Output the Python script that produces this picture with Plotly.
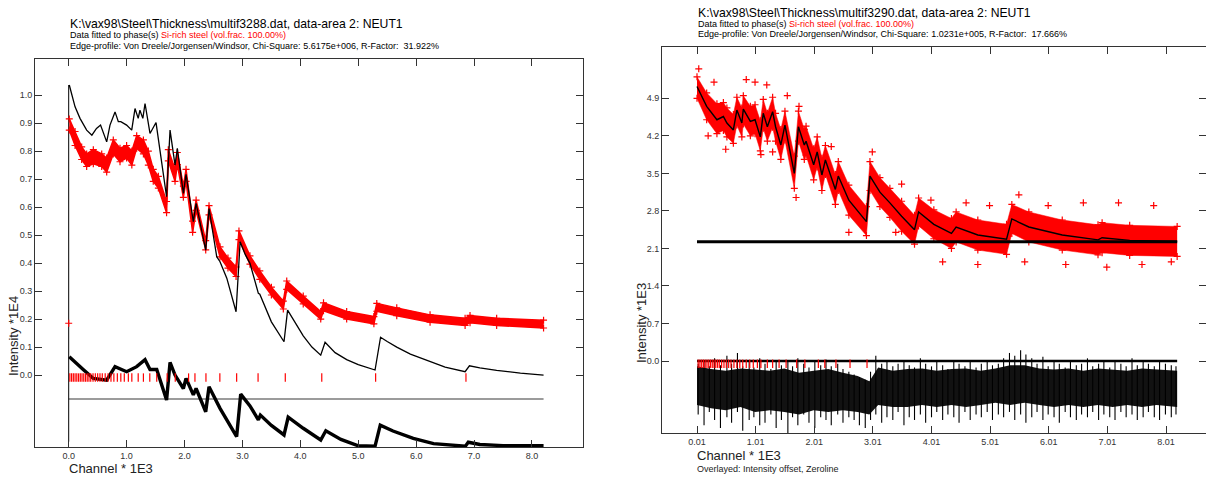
import plotly.graph_objects as go

W, H = 1206, 479
FONT = "Liberation Sans, Arial, Helvetica, sans-serif"
RED = "#ff0000"
AXC = "#333333"

# ================= LEFT PANEL DATA (multif3288.dat) =================
calc_L_x = [0.01, 0.11, 0.195, 0.31, 0.40, 0.48, 0.55, 0.656, 0.713, 0.80, 0.857, 0.90, 1.0,
            1.088, 1.145, 1.2, 1.23, 1.28, 1.318, 1.404, 1.508, 1.577, 1.69, 1.75, 1.836,
            1.876, 1.98, 2.026, 2.152, 2.2, 2.366, 2.423, 2.556, 2.613, 2.73, 2.89, 2.96,
            3.05, 3.13, 3.275, 3.30, 3.5, 3.718, 3.78, 3.9, 4.05, 4.2, 4.352, 4.427, 4.6,
            4.8, 5.0, 5.29, 5.385, 5.5, 5.665, 5.9, 6.24, 6.5, 6.845, 6.92, 7.1, 7.39, 7.8, 8.2]
calc_L_y = [1.036, 0.958, 0.917, 0.875, 0.857, 0.881, 0.893, 0.833, 0.893, 0.94, 0.905, 0.905, 0.893,
            0.875, 0.952, 0.917, 0.946, 0.917, 0.97, 0.863, 0.902, 0.798, 0.637, 0.875, 0.75,
            0.81, 0.649, 0.717, 0.548, 0.613, 0.446, 0.595, 0.423, 0.405, 0.346, 0.226, 0.476,
            0.43, 0.399, 0.292, 0.289, 0.19, 0.119, 0.232, 0.19, 0.14, 0.10, 0.071, 0.117, 0.08,
            0.055, 0.037, 0.018, 0.135, 0.12, 0.10, 0.075, 0.048, 0.028, 0.012, 0.033, 0.026, 0.017, 0.007, 0.0]

obs_L_x = [0.01, 0.11, 0.224, 0.31, 0.425, 0.57, 0.656, 0.77, 0.886, 1.0, 1.09, 1.174, 1.29,
           1.375, 1.46, 1.548, 1.69, 1.72, 1.836, 1.876, 1.98, 2.026, 2.14, 2.2, 2.366, 2.423,
           2.613, 2.75, 2.89, 2.94, 3.13, 3.3, 3.5, 3.706, 3.765, 4.05, 4.352, 4.4, 4.8, 5.27,
           5.32, 5.665, 6.24, 6.845, 6.93, 7.39, 8.2]
obs_L_hi = [0.915, 0.87, 0.815, 0.79, 0.805, 0.79, 0.775, 0.84, 0.81, 0.82, 0.80, 0.855, 0.84,
            0.80, 0.735, 0.71, 0.62, 0.805, 0.735, 0.795, 0.675, 0.735, 0.55, 0.625, 0.48, 0.605,
            0.458, 0.418, 0.386, 0.515, 0.426, 0.372, 0.314, 0.264, 0.336, 0.282, 0.227, 0.258,
            0.227, 0.209, 0.256, 0.24, 0.215, 0.203, 0.213, 0.203, 0.196]
obs_L_lo = [0.875, 0.82, 0.77, 0.745, 0.755, 0.745, 0.725, 0.79, 0.762, 0.775, 0.75, 0.81, 0.79,
            0.75, 0.692, 0.668, 0.58, 0.765, 0.692, 0.752, 0.635, 0.692, 0.51, 0.588, 0.447, 0.572,
            0.422, 0.382, 0.352, 0.484, 0.396, 0.342, 0.286, 0.236, 0.306, 0.254, 0.2, 0.23,
            0.2, 0.183, 0.228, 0.212, 0.189, 0.177, 0.187, 0.177, 0.168]

diff_L_x = [0.01, 0.11, 0.25, 0.425, 0.656, 0.8, 1.0, 1.174, 1.318, 1.404, 1.52, 1.69, 1.75,
            1.836, 1.98, 2.026, 2.152, 2.2, 2.366, 2.423, 2.613, 2.9, 2.97, 3.13, 3.275, 3.31,
            3.5, 3.718, 3.79, 4.05, 4.352, 4.44, 4.7, 4.99, 5.29, 5.38, 5.6, 5.95, 6.3, 6.85,
            6.9, 7.1, 7.5, 8.2]
diff_L_y = [0.065, 0.045, 0.02, -0.012, -0.018, 0.03, 0.012, 0.03, 0.055, 0.02, 0.02, -0.089, 0.045,
            0.0, -0.048, -0.012, -0.071, -0.048, -0.131, -0.042, -0.119, -0.22, -0.068, -0.11, -0.16, -0.143,
            -0.18, -0.214, -0.15, -0.19, -0.232, -0.199, -0.23, -0.252, -0.254, -0.179, -0.2, -0.226, -0.245, -0.254,
            -0.24, -0.248, -0.252, -0.252]

diff_offset_L = -0.0857          # grey reference line of the difference curve
channel_start_L = 0.0
channel_end_L = 8.2
start_line_L = [-0.238, 1.036]   # vertical line at channel 0
first_point_L = (0.0, 0.185)     # isolated red point
refl_level_L = -0.009

# reflection (Bragg-edge) positions, channel * 1E3
refl_pos = [0.02, 0.05, 0.08, 0.11, 0.14, 0.17, 0.20, 0.23, 0.26, 0.29, 0.32, 0.35, 0.38, 0.42,
            0.46, 0.50, 0.54, 0.58, 0.63, 0.68, 0.73, 0.78, 0.84, 0.90, 0.96, 1.03, 1.09, 1.20,
            1.29, 1.40, 1.52, 1.70, 1.84, 2.07, 2.18, 2.37, 2.61, 2.90, 3.27, 3.74, 4.37, 5.30, 6.86]

ytick_L = [0.0, 0.1, 0.2, 0.3, 0.4, 0.5, 0.6, 0.7, 0.8, 0.9, 1.0]
xtick_L = [0, 1, 2, 3, 4, 5, 6, 7, 8]
xtick_L_text = ["0.0", "1.0", "2.0", "3.0", "4.0", "5.0", "6.0", "7.0", "8.0"]

# ================= RIGHT PANEL DATA (multif3290.dat) =================
calc_R_x = [0.01, 0.175, 0.35, 0.46, 0.52, 0.63, 0.69, 0.775, 0.80, 0.92, 1.0, 1.09, 1.14, 1.21,
            1.30, 1.35, 1.44, 1.51, 1.67, 1.74, 1.84, 1.87, 2.0, 2.06, 2.14, 2.2, 2.37, 2.42,
            2.6, 2.9, 2.96, 3.13, 3.3, 3.5, 3.72, 3.79, 4.05, 4.35, 4.43, 4.8, 5.29, 5.38, 5.67,
            6.24, 6.85, 6.92, 7.39, 8.2]
calc_R_y = [5.12, 4.75, 4.50, 4.56, 4.44, 4.31, 4.68, 4.44, 4.70, 4.47, 4.50, 4.18, 4.62, 4.37,
            4.65, 4.37, 4.03, 4.40, 3.50, 4.37, 4.03, 4.10, 3.66, 3.90, 3.47, 3.75, 3.20, 3.45,
            3.00, 2.60, 3.45, 3.15, 2.95, 2.70, 2.45, 2.78, 2.55, 2.38, 2.50, 2.35, 2.27, 2.65, 2.50,
            2.35, 2.26, 2.30, 2.25, 2.23]
obs_R_hi = [5.30, 5.00, 4.80, 4.82, 4.72, 4.60, 4.92, 4.72, 4.95, 4.75, 4.78, 4.48, 4.88, 4.62,
            4.92, 4.62, 4.32, 4.66, 3.82, 4.66, 4.32, 4.38, 3.96, 4.18, 3.78, 4.02, 3.48, 3.72,
            3.28, 2.88, 3.72, 3.42, 3.22, 2.98, 2.72, 3.04, 2.82, 2.66, 2.78, 2.63, 2.55, 2.92, 2.78,
            2.63, 2.54, 2.58, 2.53, 2.51]
obs_R_lo = [4.90, 4.50, 4.24, 4.30, 4.18, 4.06, 4.40, 4.18, 4.42, 4.20, 4.24, 3.92, 4.34, 4.10,
            4.36, 4.10, 3.76, 4.12, 3.22, 4.10, 3.76, 3.84, 3.38, 3.62, 3.18, 3.48, 2.92, 3.18,
            2.72, 2.34, 3.18, 2.88, 2.68, 2.42, 2.18, 2.52, 2.28, 2.10, 2.22, 2.07, 1.99, 2.38, 2.22,
            2.07, 1.98, 2.02, 1.97, 1.95]
outl_R_x = [0.04, 0.20, 0.30, 0.50, 0.85, 1.00, 1.10, 1.20, 1.30, 1.55, 1.70, 1.75, 2.30, 2.60,
            3.00, 3.40, 3.50, 4.00, 4.20, 4.60, 4.80, 5.00, 5.50, 5.60, 6.00, 6.30, 6.60, 7.00,
            7.20, 7.60, 7.80, 8.10]
outl_R_y = [5.45, 4.20, 5.20, 3.95, 5.25, 5.20, 3.85, 5.15, 3.90, 4.95, 3.05, 4.75, 4.00, 2.40,
            3.90, 2.40, 3.30, 3.00, 1.85, 2.95, 1.80, 2.90, 3.10, 1.85, 2.90, 1.80, 2.95, 1.75,
            2.95, 1.80, 2.90, 1.85]

diff_R_x = [0.01, 0.25, 0.5, 0.75, 1.0, 1.25, 1.5, 1.75, 2.0, 2.25, 2.5, 2.75, 2.95, 3.1, 3.35,
            3.6, 3.85, 4.1, 4.35, 4.6, 4.85, 5.1, 5.35, 5.6, 5.85, 6.1, 6.35, 6.6, 6.85, 7.1,
            7.35, 7.6, 7.85, 8.2]
diff_R_hi = [-0.10, -0.15, -0.18, -0.14, -0.16, -0.18, -0.14, -0.22, -0.18, -0.15, -0.22, -0.28,
             -0.38, -0.12, -0.18, -0.15, -0.14, -0.18, -0.15, -0.14, -0.18, -0.14, -0.08, -0.08,
             -0.14, -0.16, -0.14, -0.18, -0.14, -0.16, -0.18, -0.14, -0.16, -0.18]
diff_R_lo = [-0.82, -0.88, -0.92, -0.86, -0.95, -0.92, -0.95, -1.00, -0.92, -0.95, -0.92, -0.95,
             -1.00, -0.82, -0.86, -0.86, -0.82, -0.86, -0.82, -0.86, -0.82, -0.78, -0.82, -0.78,
             -0.82, -0.86, -0.82, -0.86, -0.82, -0.86, -0.82, -0.86, -0.82, -0.86]
spike_R_x = [0.03, 0.13, 0.22, 0.31, 0.41, 0.52, 0.60, 0.70, 0.79, 0.90, 0.98, 1.08, 1.17, 1.27,
             1.36, 1.45, 1.56, 1.64, 1.73, 1.83, 1.92, 2.02, 2.12, 2.21, 2.30, 2.41, 2.50, 2.60,
             2.69, 2.78, 2.88, 2.97, 3.06, 3.16, 3.25, 3.35, 3.44, 3.54, 3.63, 3.72, 3.82, 3.91,
             4.01, 4.10, 4.20, 4.29, 4.39, 4.48, 4.58, 4.67, 4.77, 4.86, 4.96, 5.05, 5.15, 5.24,
             5.34, 5.43, 5.53, 5.62, 5.72, 5.81, 5.91, 6.00, 6.10, 6.19, 6.29, 6.38, 6.48, 6.57,
             6.67, 6.76, 6.86, 6.95, 7.05, 7.14, 7.24, 7.33, 7.43, 7.52, 7.62, 7.71, 7.81, 7.90,
             8.00, 8.10, 8.18]
spike_R_top = [-0.05, 0.00, -0.10, 0.05, -0.08, 0.10, -0.05, 0.15, -0.10, 0.00, -0.12, 0.05, -0.05,
               -0.15, 0.02, -0.08, 0.00, -0.10, 0.05, -0.05, -0.12, 0.00, -0.08, 0.03, -0.10, -0.05,
               -0.15, -0.20, -0.25, -0.30, -0.35, -0.20, 0.10, -0.05, 0.00, -0.10, -0.05, 0.02, -0.08,
               -0.12, 0.05, -0.05, -0.10, 0.00, -0.08, -0.15, 0.02, -0.05, -0.10, 0.00, -0.12, -0.05,
               0.00, -0.08, -0.05, 0.05, 0.15, 0.10, 0.20, 0.12, 0.05, -0.05, 0.08, -0.10, 0.00, -0.05,
               -0.12, 0.02, -0.08, -0.05, 0.05, -0.10, -0.05, 0.00, -0.12, 0.02, -0.05, -0.10, 0.05,
               -0.08, 0.00, -0.05, -0.10, 0.02, -0.05, -0.08, -0.10]
spike_R_bot = [-1.00, -1.20, -0.95, -1.10, -1.25, -1.05, -1.15, -0.95, -1.30, -1.10, -1.05, -1.20,
               -1.15, -1.00, -1.25, -1.10, -1.35, -1.05, -1.20, -1.00, -1.15, -1.25, -1.05, -1.10,
               -1.20, -1.00, -1.15, -1.05, -1.10, -1.20, -1.25, -1.10, -1.00, -1.15, -1.05, -1.10,
               -0.95, -1.20, -1.05, -1.10, -1.00, -1.15, -1.05, -0.95, -1.10, -1.00, -1.05, -1.15,
               -0.95, -1.10, -1.00, -1.05, -0.95, -1.10, -1.00, -1.05, -0.95, -1.10, -1.00, -1.15,
               -1.05, -0.95, -1.10, -1.00, -1.05, -1.15, -0.95, -1.05, -1.10, -1.00, -1.05, -0.95,
               -1.10, -1.00, -1.05, -1.10, -0.95, -1.05, -1.00, -1.10, -1.05, -0.95, -1.05, -1.10,
               -1.00, -1.05, -1.00]

offset_R = 2.226
zero_R = 0.0
channel_start_R = 0.01
channel_end_R = 8.2
refl_level_R = -0.05
refl_shift_R = 0.01
refl_max_R = 3.0

ytick_R = [0.0, 0.7, 1.4, 2.1, 2.8, 3.5, 4.2, 4.9]
xtick_R = [0.01, 1.01, 2.01, 3.01, 4.01, 5.01, 6.01, 7.01, 8.01]
xtick_R_text = ["0.01", "1.01", "2.01", "3.01", "4.01", "5.01", "6.01", "7.01", "8.01"]

# ================= FIGURE =================
def fx(p):  # pixel -> paper x
    return p / W

def fy(p):  # pixel -> paper y
    return 1 - p / H

fig = go.Figure()
CROSS = dict(symbol="cross-thin", size=5, line=dict(color=RED, width=1.2))

# ---- left panel traces ----
fig.add_trace(go.Scatter(x=[channel_start_L, channel_end_L], y=[diff_offset_L, diff_offset_L],
                         mode="lines", line=dict(color="#7a7a7a", width=1.6), xaxis="x", yaxis="y"))
fig.add_trace(go.Scatter(x=[channel_start_L, channel_start_L], y=start_line_L,
                         mode="lines", line=dict(color="#000", width=1), xaxis="x", yaxis="y"))
fig.add_trace(go.Scatter(x=diff_L_x, y=diff_L_y, mode="lines",
                         line=dict(color="#000", width=3.4), xaxis="x", yaxis="y"))
fig.add_trace(go.Scatter(x=obs_L_x, y=obs_L_lo, mode="lines+markers",
                         line=dict(color=RED, width=1.5), marker=CROSS, xaxis="x", yaxis="y"))
fig.add_trace(go.Scatter(x=obs_L_x, y=obs_L_hi, mode="lines+markers", fill="tonexty", fillcolor=RED,
                         line=dict(color=RED, width=1.5), marker=CROSS, xaxis="x", yaxis="y"))
fig.add_trace(go.Scatter(x=calc_L_x, y=calc_L_y, mode="lines",
                         line=dict(color="#000", width=1.3), xaxis="x", yaxis="y"))
fig.add_trace(go.Scatter(x=refl_pos, y=[refl_level_L] * len(refl_pos), mode="markers",
                         marker=dict(symbol="line-ns", size=6, line=dict(color=RED, width=1.2)),
                         xaxis="x", yaxis="y"))
fig.add_trace(go.Scatter(x=[first_point_L[0]], y=[first_point_L[1]], mode="markers",
                         marker=dict(symbol="cross-thin", size=5, line=dict(color=RED, width=1.2)),
                         xaxis="x", yaxis="y"))

# ---- right panel traces ----
fig.add_trace(go.Scatter(x=calc_R_x, y=obs_R_lo, mode="lines+markers",
                         line=dict(color=RED, width=0.5), marker=CROSS, xaxis="x2", yaxis="y2"))
fig.add_trace(go.Scatter(x=calc_R_x, y=obs_R_hi, mode="lines+markers", fill="tonexty",
                         fillcolor=RED, line=dict(color=RED, width=0.5), marker=CROSS,
                         xaxis="x2", yaxis="y2"))
fig.add_trace(go.Scatter(x=outl_R_x, y=outl_R_y, mode="markers", marker=CROSS,
                         xaxis="x2", yaxis="y2"))
fig.add_trace(go.Scatter(x=[channel_start_R, channel_end_R], y=[offset_R, offset_R], mode="lines",
                         line=dict(color="#000", width=3), xaxis="x2", yaxis="y3"))
fig.add_trace(go.Scatter(x=calc_R_x, y=calc_R_y, mode="lines",
                         line=dict(color="#000", width=1.4), xaxis="x2", yaxis="y2"))

fig.add_trace(go.Scatter(x=diff_R_x, y=diff_R_lo, mode="lines", line=dict(color="rgba(0,0,0,0)", width=0),
                         xaxis="x2", yaxis="y2"))
fig.add_trace(go.Scatter(x=diff_R_x, y=diff_R_hi, mode="lines", fill="tonexty",
                         fillcolor="rgba(0,0,0,0.93)", line=dict(color="rgba(0,0,0,0)", width=0),
                         xaxis="x2", yaxis="y2"))
sx, sy = [], []
for xv, t, b in zip(spike_R_x, spike_R_top, spike_R_bot):
    sx += [xv, xv, None]
    sy += [t, b, None]
fig.add_trace(go.Scatter(x=sx, y=sy, mode="lines", line=dict(color="#000", width=1.1),
                         xaxis="x2", yaxis="y2"))
fig.add_trace(go.Scatter(x=[channel_start_R, channel_end_R], y=[zero_R, zero_R], mode="lines",
                         line=dict(color="#000", width=2.5), xaxis="x2", yaxis="y2"))
refl_R = [p + refl_shift_R for p in refl_pos if p + refl_shift_R <= refl_max_R]
fig.add_trace(go.Scatter(x=refl_R, y=[refl_level_R] * len(refl_R), mode="markers",
                         marker=dict(symbol="line-ns", size=6, line=dict(color=RED, width=1.2)),
                         xaxis="x2", yaxis="y2"))

tickfont = dict(family=FONT, size=9, color="#333")

axis_common = dict(showgrid=False, zeroline=False, showline=True, linecolor=AXC, linewidth=1,
                   ticks="inside", ticklen=7, tickcolor=AXC, tickwidth=1, tickfont=tickfont)

fig.update_layout(
    width=W, height=H,
    margin=dict(l=0, r=0, t=0, b=0),
    paper_bgcolor="white", plot_bgcolor="white",
    showlegend=False,
    font=dict(family=FONT),
    xaxis=dict(domain=[fx(35), fx(583)], range=[-0.582, 8.881], anchor="y", mirror="ticks",
               tickvals=xtick_L, ticktext=xtick_L_text, **axis_common),
    yaxis=dict(domain=[fy(447), fy(59)], range=[-0.257, 1.129], anchor="x", mirror="ticks",
               tickvals=ytick_L, ticktext=["%.1f" % v for v in ytick_L], **axis_common),
    xaxis2=dict(domain=[fx(662), 1.0], range=[-0.587, 8.692], anchor="y2", mirror="ticks",
                tickvals=xtick_R, ticktext=xtick_R_text, **axis_common),
    yaxis2=dict(domain=[fy(433), fy(47)], range=[-1.343, 5.857], anchor="x2", mirror=False,
                tickvals=ytick_R, ticktext=["%.1f" % v for v in ytick_R], **axis_common),
    yaxis3=dict(overlaying="y2", side="right", anchor="x2", range=[-1.343, 5.857],
                tickvals=ytick_R, showticklabels=False, showgrid=False, zeroline=False,
                showline=False, ticks="inside", ticklen=7, tickcolor=AXC, tickwidth=1),
)

def ann(x, y, text, size, color="#000", xanchor="left", angle=0):
    fig.add_annotation(x=x, y=y, xref="paper", yref="paper", text=text, showarrow=False,
                       xanchor=xanchor, yanchor="middle", textangle=angle,
                       font=dict(family=FONT, size=size, color=color))

RSPAN = "<span style='color:#ff0000'>Si-rich steel (vol.frac. 100.00%)</span>"
TS = 12.2
# left titles
ann(fx(68), fy(24), "K:\\vax98\\Steel\\Thickness\\multif3288.dat, data-area 2: NEUT1", TS)
ann(fx(68), fy(35), "Data fitted to phase(s) " + RSPAN, 9)
ann(fx(68), fy(46), "Edge-profile: Von Dreele/Jorgensen/Windsor, Chi-Square: 5.6175e+006, R-Factor:  31.922%", 9)
# right titles
ann(fx(696), fy(12.5), "K:\\vax98\\Steel\\Thickness\\multif3290.dat, data-area 2: NEUT1", TS)
ann(fx(696), fy(23.5), "Data fitted to phase(s) " + RSPAN, 9)
ann(fx(696), fy(34.5), "Edge-profile: Von Dreele/Jorgensen/Windsor, Chi-Square: 1.0231e+005, R-Factor:  17.666%", 9)
# axis titles
ann(fx(67), fy(468), "Channel * 1E3", 13, "#222")
ann(fx(695), fy(455), "Channel * 1E3", 13, "#222")
ann(fx(695), fy(469), "Overlayed: Intensity offset, Zeroline", 9, "#222")
ann(fx(13), fy(336), "Intensity *1E4", 13, "#222", xanchor="center", angle=-90)
ann(fx(641), fy(323), "Intensity *1E3", 13, "#222", xanchor="center", angle=-90)

fig.write_html("out.html")
